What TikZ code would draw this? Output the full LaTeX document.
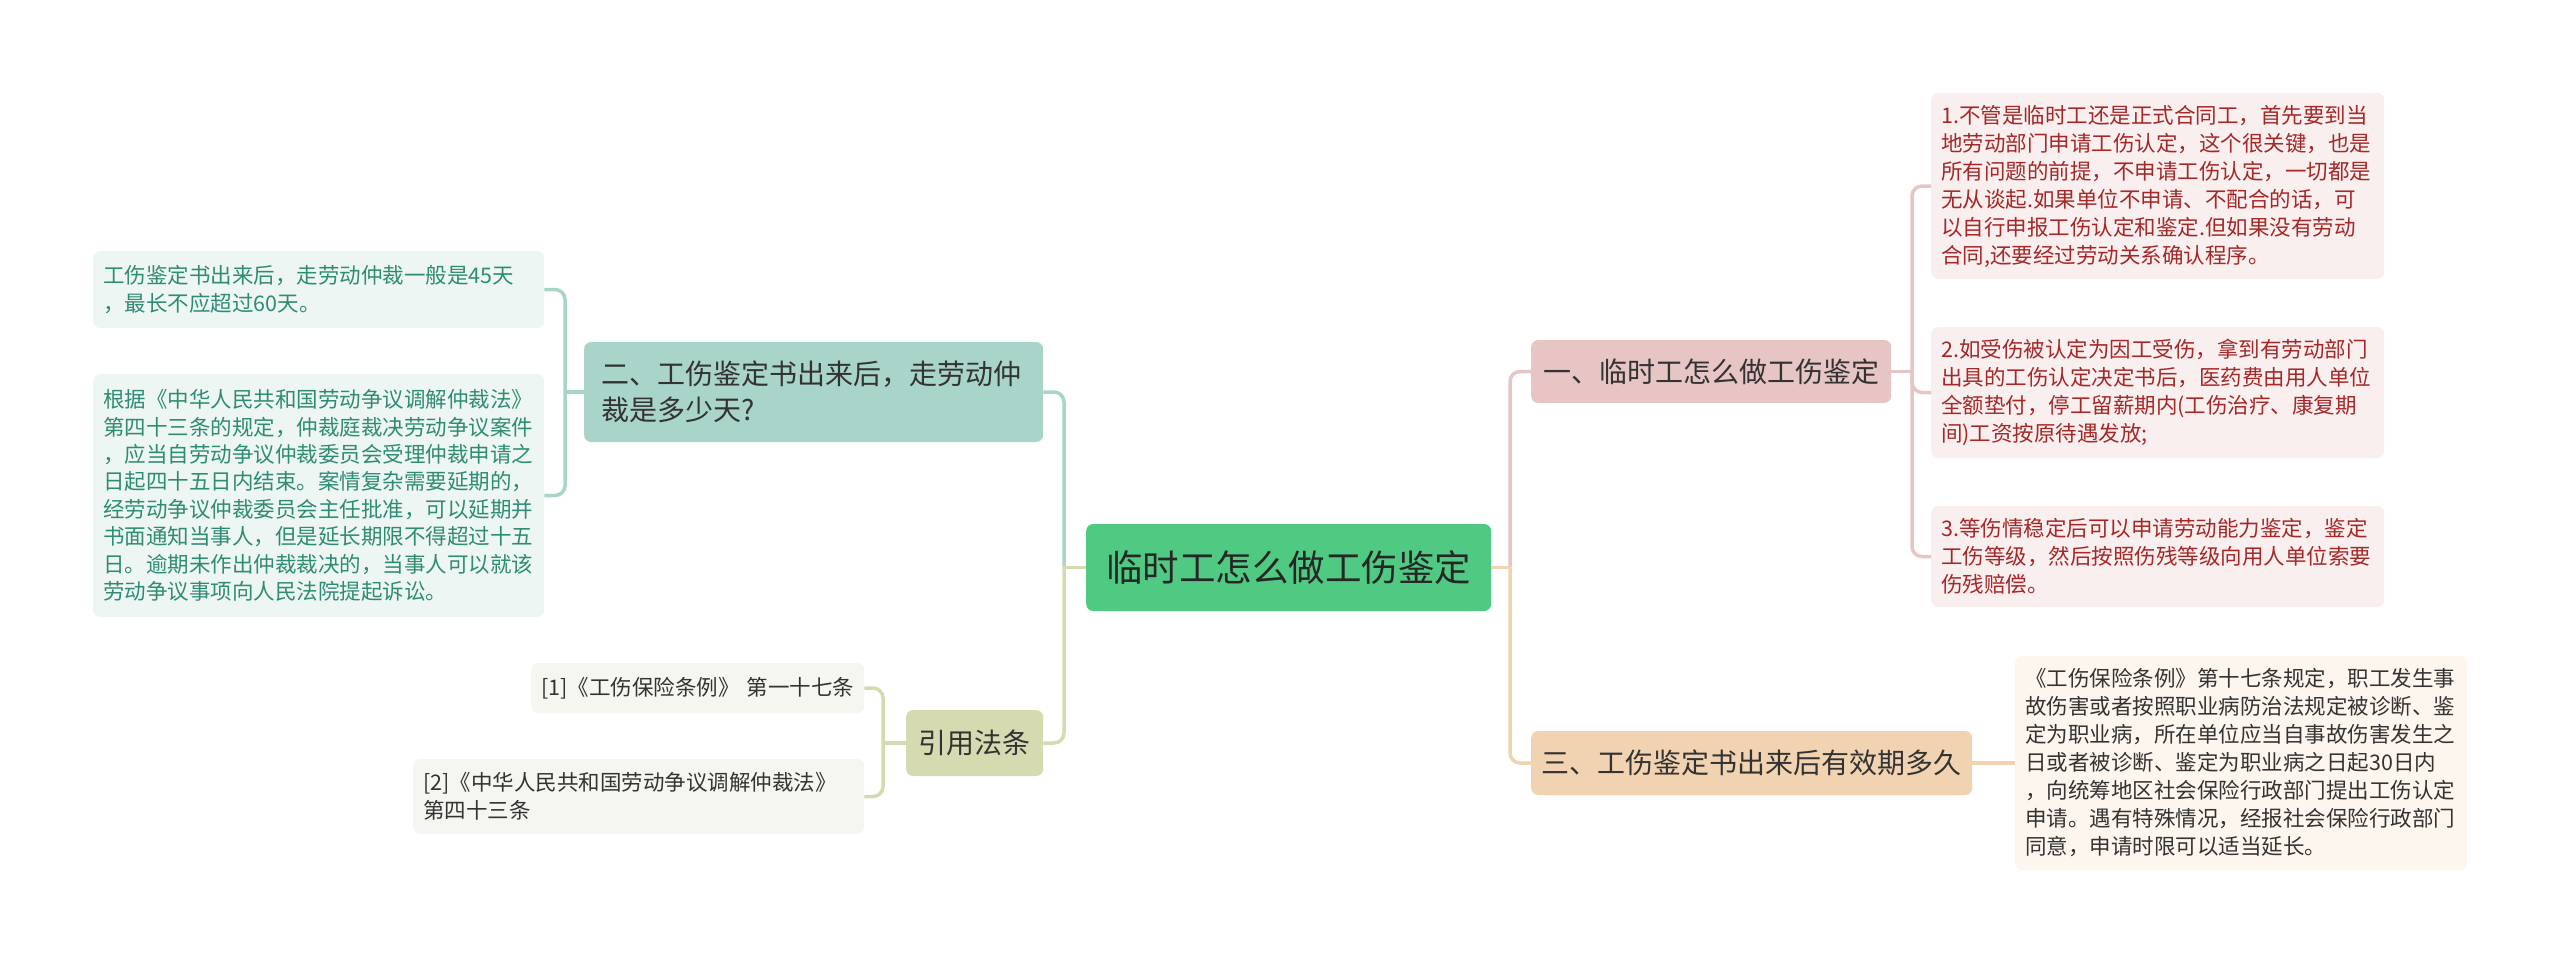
\documentclass[tikz,border=0pt]{standalone}
\usepackage{fontspec}
\setmainfont{Noto Sans CJK SC}
\definecolor{cgreen}{HTML}{50C982}
\definecolor{cteal}{HTML}{A8D4CA}
\definecolor{afill}{HTML}{EDF6F3}
\definecolor{atext}{HTML}{2F8C74}
\definecolor{colive}{HTML}{D6DAB0}
\definecolor{reffill}{HTML}{F5F6EF}
\definecolor{cpink}{HTML}{E8C5C5}
\definecolor{rfill}{HTML}{F9EFEF}
\definecolor{rtext}{HTML}{A52828}
\definecolor{cpeach}{HTML}{F2D3B1}
\definecolor{pfill}{HTML}{FDF6EE}
\definecolor{dtext}{HTML}{333333}
\begin{document}
\begin{tikzpicture}[x=1pt,y=-1pt,
  base/.style={rounded corners=7pt, inner ysep=0pt, anchor=west},
  leaf/.style={base, align=left, font=\fontsize{21.5}{27.8}\selectfont},
  topic/.style={base, font=\fontsize{28}{36}\selectfont, text=dtext},
  conn/.style={line width=3.5pt, rounded corners=10pt},
]
\useasboundingbox (0,0) rectangle (2560,964);

% central
\node[base, fill=cgreen, minimum height=87, text width=381, inner xsep=12, align=center,
      font=\fontsize{36.5}{44}\selectfont, text=black!85] (c) at (1086,567.5) {临时工怎么做工伤鉴定};

% left branch: 二
\node[topic, fill=cteal, minimum height=100, text width=425, inner xsep=17, align=left] (n2) at (584,392)
  {二、工伤鉴定书出来后，走劳动仲\\裁是多少天?};
\node[leaf, fill=afill, text=atext, minimum height=77, text width=431, inner xsep=10] (A1) at (93,289.5)
  {工伤鉴定书出来后，走劳动仲裁一般是45天\\，最长不应超过60天。};
\node[leaf, fill=afill, text=atext, minimum height=243, text width=431, inner xsep=10, font=\fontsize{21.5}{27.4}\selectfont] (A2) at (93,495.5)
  {根据《中华人民共和国劳动争议调解仲裁法》\\第四十三条的规定，仲裁庭裁决劳动争议案件\\，应当自劳动争议仲裁委员会受理仲裁申请之\\日起四十五日内结束。案情复杂需要延期的，\\经劳动争议仲裁委员会主任批准，可以延期并\\书面通知当事人，但是延长期限不得超过十五\\日。逾期未作出仲裁裁决的，当事人可以就该\\劳动争议事项向人民法院提起诉讼。};

% left branch: 引用法条
\node[topic, fill=colive, minimum height=66, text width=117, inner xsep=10, align=center] (cite) at (906,743) {引用法条};
\node[leaf, fill=reffill, text=dtext, minimum height=50, text width=313, inner xsep=10] (ref1) at (531,688)
  {[1]《工伤保险条例》~第一十七条};
\node[leaf, fill=reffill, text=dtext, minimum height=75, text width=431, inner xsep=10] (ref2) at (413,796.5)
  {[2]《中华人民共和国劳动争议调解仲裁法》\\第四十三条};

% right branch: 一
\node[topic, fill=cpink, minimum height=63, text width=340, inner xsep=10, align=center] (n1) at (1531,371.5)
  {一、临时工怎么做工伤鉴定};
\node[leaf, fill=rfill, text=rtext, minimum height=186, text width=433, inner xsep=10, font=\fontsize{21.5}{28}\selectfont] (R1) at (1931,186)
  {1.不管是临时工还是正式合同工，首先要到当\\地劳动部门申请工伤认定，这个很关键，也是\\所有问题的前提，不申请工伤认定，一切都是\\无从谈起.如果单位不申请、不配合的话，可\\以自行申报工伤认定和鉴定.但如果没有劳动\\合同,还要经过劳动关系确认程序。};
\node[leaf, fill=rfill, text=rtext, minimum height=131, text width=433, inner xsep=10, font=\fontsize{21.5}{28}\selectfont] (R2) at (1931,392.5)
  {2.如受伤被认定为因工受伤，拿到有劳动部门\\出具的工伤认定决定书后，医药费由用人单位\\全额垫付，停工留薪期内(工伤治疗、康复期\\间)工资按原待遇发放;};
\node[leaf, fill=rfill, text=rtext, minimum height=101, text width=433, inner xsep=10, font=\fontsize{21.5}{28}\selectfont] (R3) at (1931,556.5)
  {3.等伤情稳定后可以申请劳动能力鉴定，鉴定\\工伤等级，然后按照伤残等级向用人单位索要\\伤残赔偿。};

% right branch: 三
\node[topic, fill=cpeach, minimum height=64, text width=425, inner xsep=8, align=center] (n3) at (1531,763)
  {三、工伤鉴定书出来后有效期多久};
\node[leaf, fill=pfill, text=dtext, minimum height=214, text width=432, inner xsep=10, font=\fontsize{21.5}{28}\selectfont] (R4) at (2015,763)
  {《工伤保险条例》第十七条规定，职工发生事\\故伤害或者按照职业病防治法规定被诊断、鉴\\定为职业病，所在单位应当自事故伤害发生之\\日或者被诊断、鉴定为职业病之日起30日内\\，向统筹地区社会保险行政部门提出工伤认定\\申请。遇有特殊情况，经报社会保险行政部门\\同意，申请时限可以适当延长。};

% junction points
\coordinate (tL) at (1064,567.5);
\coordinate (tR) at (1510,567.5);
\coordinate (t2) at (565,392);
\coordinate (t3) at (883,743);
\coordinate (t1) at (1912,371.5);

% connectors
\draw[conn, cteal] (n2.east) -| (tL);
\draw[conn, colive] (cite.east) -| (tL);
\draw[conn, colive] (c.west) -- (tL);

\draw[conn, cpink] (n1.west) -| (tR);
\draw[conn, cpeach] (n3.west) -| (tR);
\draw[conn, cpeach] (c.east) -- (tR);

\draw[conn, cteal] (A1.east) -| (t2);
\draw[conn, cteal] (A2.east) -| (t2);
\draw[conn, cteal] (n2.west) -- (t2);

\draw[conn, colive] (ref1.east) -| (t3);
\draw[conn, colive] (ref2.east) -| (t3);
\draw[conn, colive] (cite.west) -- (t3);

\draw[conn, cpink] (R1.west) -| (t1);
\draw[conn, cpink] (R2.west) -| (t1);
\draw[conn, cpink] (R3.west) -| (t1);
\draw[conn, cpink] (n1.east) -- (t1);

\draw[conn, cpeach] (n3.east) -- (R4.west);
\end{tikzpicture}
\end{document}
